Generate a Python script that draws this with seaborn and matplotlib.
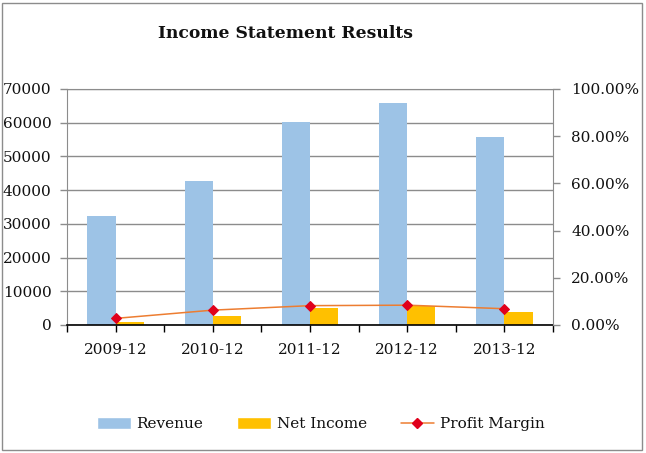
import seaborn as sns
from matplotlib import pyplot as plt
from matplotlib.patches import Patch, Rectangle
from matplotlib.lines import Line2D
from matplotlib.ticker import FuncFormatter, MultipleLocator
import pandas as pd

years = ["2009-12", "2010-12", "2011-12", "2012-12", "2013-12"]
revenue = [32300, 42700, 60100, 65900, 55800]
net_income = [900, 2700, 5100, 5600, 3950]
profit_margin = [0.028, 0.063, 0.082, 0.084, 0.069]

REV_COLOR = "#9DC3E6"
NI_COLOR = "#FFC000"
LINE_COLOR = "#ED7D31"
MARK_COLOR = "#E0001B"
GRID = "#8C8C8C"
TEXT = "#111111"

sns.set_style("white")
plt.rcParams["font.family"] = ["DejaVu Serif"]

df = pd.DataFrame({
    "Year": years * 2,
    "Value": revenue + net_income,
    "Series": ["Revenue"] * len(years) + ["Net Income"] * len(years),
})

fig = plt.figure(figsize=(6.46, 4.53), dpi=100)
ax = fig.add_axes([67 / 646, 1 - 325 / 453, (553 - 67) / 646, (325 - 89) / 453])

sns.barplot(
    data=df, x="Year", y="Value", hue="Series",
    palette={"Revenue": REV_COLOR, "Net Income": NI_COLOR},
    width=0.58, saturation=1, legend=False, ax=ax,
    edgecolor="none", linewidth=0,
)

ax.set_xlim(-0.5, 4.5)
ax.set_ylim(0, 70000)
ax.yaxis.set_major_locator(MultipleLocator(10000))
ax.yaxis.grid(True, color=GRID, linewidth=1)
ax.set_axisbelow(True)
ax.set_xlabel("")
ax.set_ylabel("")
ax.xaxis.set_minor_locator(MultipleLocator(1, offset=0.5))
ax.tick_params(axis="x", which="both", direction="out", length=5, width=1,
               color="black", bottom=True, pad=8, labelsize=11, labelcolor=TEXT)
ax.tick_params(axis="y", direction="out", length=5, width=1, color=GRID,
               left=True, pad=6, labelsize=11, labelcolor=TEXT)
for side in ["left", "top"]:
    ax.spines[side].set_color(GRID)
ax.spines["right"].set_visible(False)
ax.spines["bottom"].set_color("black")
ax.spines["bottom"].set_linewidth(1.2)

ax2 = ax.twinx()
sns.lineplot(x=list(range(len(years))), y=profit_margin, ax=ax2,
             color=LINE_COLOR, linewidth=1.1, marker="D", markersize=5.5,
             markerfacecolor=MARK_COLOR, markeredgecolor=MARK_COLOR)
ax2.set_ylim(0, 1)
ax2.yaxis.set_major_locator(MultipleLocator(0.2))
ax2.yaxis.set_major_formatter(FuncFormatter(lambda v, p: f"{v * 100:.2f}%"))
ax2.tick_params(axis="y", direction="out", length=5, width=1, color=GRID,
                right=True, pad=8, labelsize=11, labelcolor=TEXT)
for side in ["left", "top", "bottom"]:
    ax2.spines[side].set_visible(False)
ax2.spines["right"].set_color(GRID)
ax2.grid(False)

fig.text(286 / 646, 1 - 33 / 453, "Income Statement Results", ha="center",
         va="center", fontsize=12.3, fontweight="bold", color=TEXT)

handles = [
    Patch(facecolor=REV_COLOR, label="Revenue"),
    Patch(facecolor=NI_COLOR, label="Net Income"),
    Line2D([], [], color=LINE_COLOR, linewidth=1.1, marker="D", markersize=5,
           markerfacecolor=MARK_COLOR, markeredgecolor=MARK_COLOR,
           label="Profit Margin"),
]
fig.legend(handles=handles, loc="center", bbox_to_anchor=(321 / 646, 1 - 424 / 453),
           ncol=3, frameon=False, fontsize=11, handlelength=2.2, handleheight=0.9,
           columnspacing=2.2, handletextpad=0.4, labelcolor=TEXT)

fig.patches.append(Rectangle((2 / 646, 3 / 453), 640 / 646, 447 / 453,
                             transform=fig.transFigure, fill=False,
                             edgecolor="#8C8C8C", linewidth=1))

fig.savefig("out.png", dpi=100)
